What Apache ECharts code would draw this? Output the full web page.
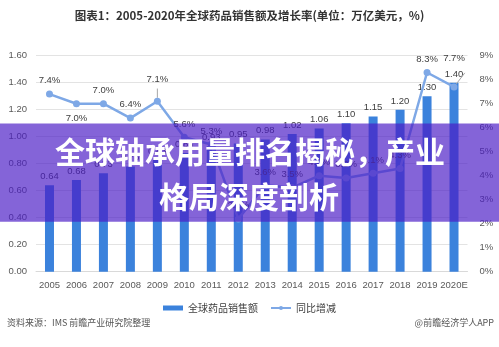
<!DOCTYPE html>
<html>
<head>
<meta charset="utf-8">
<script src="https://cdn.jsdelivr.net/npm/echarts@6/dist/echarts.min.js"></script>
<style>
html,body{margin:0;padding:0;background:#fff;}
#c{width:499px;height:347px;}
</style>
</head>
<body>
<div id="c"></div>
<script>
var years = ['2005','2006','2007','2008','2009','2010','2011','2012','2013','2014','2015','2016','2017','2018','2019','2020E'];
var sales = [0.64,0.68,0.73,0.78,0.83,0.88,0.93,0.95,0.98,1.02,1.06,1.10,1.15,1.20,1.30,1.40];
var growth = [7.4,7.0,7.0,6.4,7.1,5.6,5.3,2.2,3.6,3.5,4.0,3.9,4.1,4.3,8.3,7.7];
var leftTicks = [0,0.2,0.4,0.6,0.8,1.0,1.2,1.4,1.6];
var rightTicks = [0,1,2,3,4,5,6,7,8,9];

var font = '"Liberation Sans", "Noto Sans CJK SC", sans-serif';
var cjk = '"Noto Sans CJK SC", sans-serif';

var growthData = growth.map(function(v, i){
  var d = {value: v};
  if (i === 1) d.label = {position: 'bottom', distance: 6};
  if (i === 4) { d.label = {distance: 14}; d.labelLine = {show: true}; }
  if (i === 15) { d.label = {distance: 20}; d.labelLine = {show: true}; }
  return d;
});

var chart = echarts.init(document.getElementById('c'), null, {renderer: 'canvas'});
chart.setOption({
  animation: false,
  backgroundColor: '#ffffff',
  title: {
    text: '图表1：2005-2020年全球药品销售额及增长率(单位：万亿美元，%)',
    left: 'center', top: 5,
    textStyle: {fontSize: 11.5, fontWeight: 'bold', color: '#333333', fontFamily: cjk}
  },
  legend: {
    bottom: 29, left: 'center',
    itemWidth: 20, itemHeight: 5, itemGap: 12,
    textStyle: {fontSize: 10, color: '#404040', fontFamily: cjk},
    data: [{name: '全球药品销售额', icon: 'rect'}, {name: '同比增减'}]
  },
  grid: {left: 36, right: 31.5, top: 55.7, bottom: 75.3},
  xAxis: {
    type: 'category', data: years,
    axisTick: {show: false},
    axisLine: {lineStyle: {color: '#d9d9d9'}},
    axisLabel: {fontSize: 9.5, color: '#595959', margin: 9, fontFamily: font, interval: 0}
  },
  yAxis: [{
    type: 'value', min: leftTicks[0], max: leftTicks[leftTicks.length-1], interval: 0.2,
    axisLabel: {fontSize: 9.5, color: '#595959', margin: 9, fontFamily: font,
      formatter: function(v){ return v.toFixed(2); }},
    axisLine: {show: false}, axisTick: {show: false},
    splitLine: {lineStyle: {color: '#e3e3e3'}}
  }, {
    type: 'value', min: rightTicks[0], max: rightTicks[rightTicks.length-1], interval: 1,
    axisLabel: {fontSize: 9.5, color: '#595959', margin: 12, fontFamily: font, formatter: '{value}%'},
    axisLine: {show: false}, axisTick: {show: false},
    splitLine: {show: false}
  }],
  series: [{
    name: '全球药品销售额', type: 'bar', data: sales, barWidth: 9,
    itemStyle: {color: '#3b82dc'},
    label: {show: true, position: 'top', distance: 4, fontSize: 9.5, color: '#404040', fontFamily: font,
      formatter: function(p){ return p.value.toFixed(2); }}
  }, {
    name: '同比增减', type: 'line', yAxisIndex: 1, data: growthData,
    symbol: 'circle', symbolSize: 7,
    lineStyle: {color: '#7ea8e6', width: 2.5},
    itemStyle: {color: '#7ea8e6'},
    labelLine: {show: false, lineStyle: {color: '#a6a6a6', width: 1}},
    label: {show: true, position: 'top', distance: 5, fontSize: 9.5, color: '#404040', fontFamily: font,
      formatter: function(p){ return p.value.toFixed(1) + '%'; }}
  }],
  graphic: [
    {type: 'rect', z: 100, shape: {x: 0, y: 123.5, width: 499, height: 98.2},
      style: {fill: 'rgba(74,26,198,0.68)'}},
    {type: 'text', z: 101, x: 250, y: 152,
      style: {text: '全球轴承用量排名揭秘，产业', fill: '#ffffff', font: 'bold 30px "Noto Sans CJK SC"',
        textAlign: 'center', textVerticalAlign: 'middle', shadowBlur: 2, shadowColor: 'rgba(0,0,0,0.3)'}},
    {type: 'text', z: 101, x: 249, y: 197,
      style: {text: '格局深度剖析', fill: '#ffffff', font: 'bold 30px "Noto Sans CJK SC"',
        textAlign: 'center', textVerticalAlign: 'middle', shadowBlur: 2, shadowColor: 'rgba(0,0,0,0.3)'}},
    {type: 'text', x: 7, y: 323,
      style: {text: '资料来源：IMS 前瞻产业研究院整理', fill: '#555555', font: '9px "Noto Sans CJK SC"',
        textVerticalAlign: 'middle'}},
    {type: 'text', x: 494, y: 323,
      style: {text: '@前瞻经济学人APP', fill: '#555555', font: '9px "Noto Sans CJK SC"',
        textAlign: 'right', textVerticalAlign: 'middle'}}
  ]
});
</script>
</body>
</html>
